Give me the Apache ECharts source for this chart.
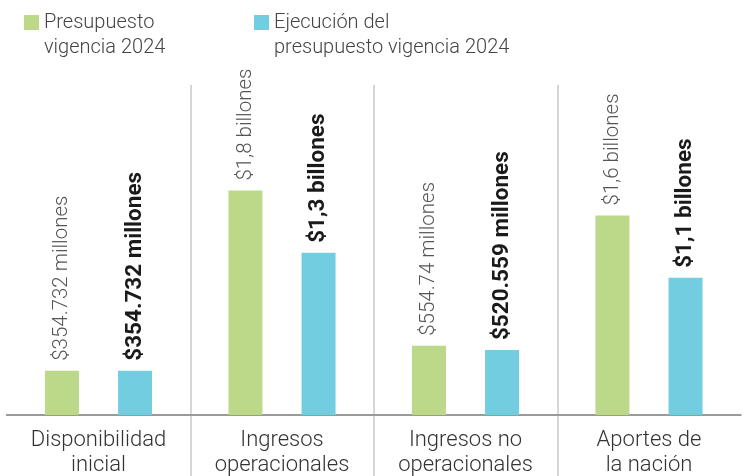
<!DOCTYPE html>
<html>
<head>
<meta charset="utf-8">
<script src="https://cdn.jsdelivr.net/npm/echarts@6/dist/echarts.min.js"></script>
<style>
html,body{margin:0;padding:0;background:#fff;}
#chart{width:747px;height:476px;}
</style>
</head>
<body>
<div id="chart"></div>
<script>
// Data
const categories = ['Disponibilidad\ninicial', 'Ingresos\noperacionales', 'Ingresos no\noperacionales', 'Aportes de\nla nación'];
const seriesNames = ['Presupuesto vigencia 2024', 'Ejecución del presupuesto vigencia 2024'];
const legendLabels = [' \nPresupuesto\nvigencia 2024', ' \nEjecución del\npresupuesto vigencia 2024'];
const presupuesto = [354.732, 1800, 554.74, 1600]; // miles de millones
const ejecucion = [354.732, 1300, 520.559, 1100];
const presupuestoLabels = ['$354.732 millones', '$1,8 billones', '$554.74 millones', '$1,6 billones'];
const ejecucionLabels = ['$354.732 millones', '$1,3 billones', '$520.559 millones', '$1,1 billones'];

const FONT = 'Roboto';
const chart = echarts.init(document.getElementById('chart'), null, {renderer: 'canvas'});

function legendCfg(i, left) {
  return {
    data: [seriesNames[i]],
    left: left,
    top: -15,
    padding: 0,
    itemWidth: 15,
    itemHeight: 15,
    icon: 'rect',
    selectedMode: false,
    formatter: function () { return legendLabels[i]; },
    textStyle: {
      fontFamily: FONT,
      fontWeight: 300,
      fontSize: 20,
      lineHeight: 25,
      color: '#444'
    }
  };
}

const splitLineCfg = {
  show: true,
  showMinLine: false,
  showMaxLine: false,
  lineStyle: {color: '#c8c8c8', width: 1.5}
};

chart.setOption({
  animation: false,
  backgroundColor: '#fff',
  legend: [legendCfg(0, 24), legendCfg(1, 254)],
  grid: [
    {left: 6.75, right: 6.25, top: 85, bottom: 61, containLabel: false, outerBoundsMode: 'none'},
    {left: 6.75, right: 6.25, top: 415, bottom: 0, containLabel: false, outerBoundsMode: 'none'}
  ],
  xAxis: [
    {
      type: 'category',
      gridIndex: 0,
      data: categories,
      axisLine: {show: true, lineStyle: {color: '#9a9a9a', width: 2}},
      axisTick: {show: false},
      axisLabel: {
        interval: 0,
        margin: 13,
        fontFamily: FONT,
        fontWeight: 300,
        fontSize: 22,
        lineHeight: 25,
        color: '#333'
      },
      splitLine: splitLineCfg
    },
    {
      type: 'category',
      gridIndex: 1,
      data: categories,
      axisLine: {show: false},
      axisTick: {show: false},
      axisLabel: {show: false},
      splitLine: splitLineCfg
    }
  ],
  yAxis: [
    {type: 'value', gridIndex: 0, min: 0, max: 2646, show: false, splitLine: {show: false}},
    {type: 'value', gridIndex: 1, min: 0, max: 1, show: false, splitLine: {show: false}}
  ],
  series: [
    {
      name: seriesNames[0],
      type: 'bar',
      data: presupuesto,
      barWidth: 34,
      barGap: '115%',
      itemStyle: {color: '#bbd988'},
      label: {
        show: true,
        position: 'top',
        rotate: 90,
        align: 'left',
        verticalAlign: 'middle',
        distance: 10,
        fontFamily: FONT,
        fontWeight: 300,
        fontSize: 20.5,
        color: '#555',
        formatter: function (p) { return presupuestoLabels[p.dataIndex]; }
      }
    },
    {
      name: seriesNames[1],
      type: 'bar',
      data: ejecucion,
      barWidth: 34,
      barGap: '115%',
      itemStyle: {color: '#73cde0'},
      label: {
        show: true,
        position: 'top',
        rotate: 90,
        align: 'left',
        verticalAlign: 'middle',
        distance: 10,
        fontFamily: FONT,
        fontWeight: 'bold',
        fontSize: 22.5,
        color: '#1a1a1a',
        formatter: function (p) { return ejecucionLabels[p.dataIndex]; }
      }
    }
  ]
});
</script>
</body>
</html>
